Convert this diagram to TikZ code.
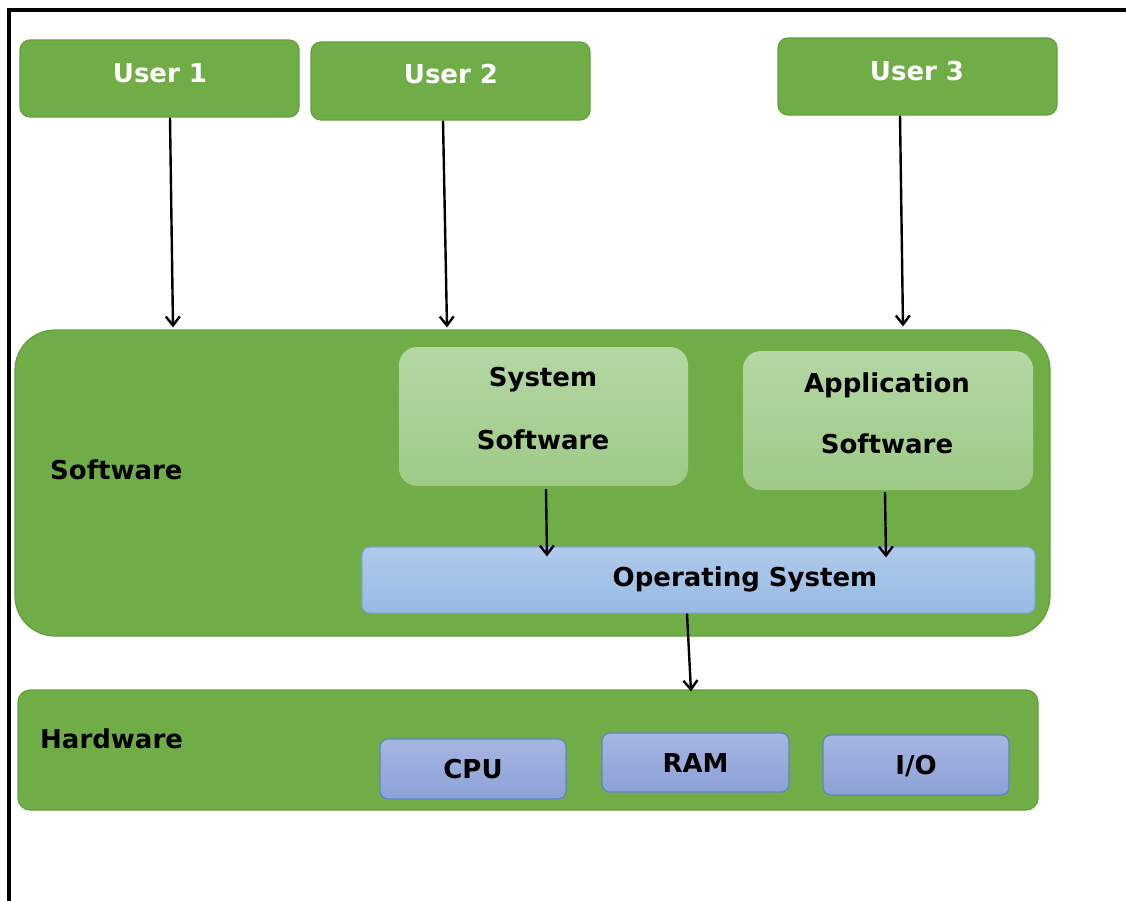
\documentclass[tikz,border=0pt]{standalone}
\usepackage{fontspec}
\setmainfont{DejaVu Sans}
\usetikzlibrary{arrows.meta,calc}
\definecolor{leaf}{HTML}{70AD47}
\definecolor{leafedge}{HTML}{62A03D}
\definecolor{paletop}{HTML}{B4D7A4}
\definecolor{palebot}{HTML}{9ECA86}
\definecolor{ostop}{HTML}{AFCAEC}
\definecolor{osbot}{HTML}{98BBE3}
\definecolor{osedge}{HTML}{7BA7DB}
\definecolor{hwtop}{HTML}{A6B6E2}
\definecolor{hwbot}{HTML}{8DA1D6}
\definecolor{hwedge}{HTML}{5A86C9}
\tikzset{
  x=1pt, y=-1pt,
  every node/.style={font=\fontsize{26}{30}\selectfont\bfseries, inner sep=0pt},
  userbox/.style={draw=leafedge, fill=leaf, line width=1.2pt, rounded corners=10pt, text=white},
  layerbox/.style={draw=leafedge, fill=leaf, line width=1.2pt},
  softbox/.style={top color=paletop, bottom color=palebot, rounded corners=18pt},
  osbox/.style={draw=osedge, line width=1.2pt, top color=ostop, bottom color=osbot, rounded corners=8pt},
  hwbox/.style={draw=hwedge, line width=1.2pt, top color=hwtop, bottom color=hwbot, rounded corners=8pt},
  lbl/.style={text=black},
  ulbl/.style={text=white},
  arr/.style={-{Straight Barb[length=9pt,width=14pt,line width=2.4pt]}, line width=2.4pt, black},
}
\begin{document}
\begin{tikzpicture}
\useasboundingbox (0,0) rectangle (1126,901);
\fill[white] (0,0) rectangle (1126,901);
% outer frame
\draw[line width=3.2pt] (9,901) -- (9,10) -- (1126,10);

% users
\node[userbox, minimum width=279pt, minimum height=77pt] (u1) at (159.5,78.5) {};
\node[ulbl] (u1l) at (160,73) {User 1};
\node[userbox, minimum width=279pt, minimum height=78pt] (u2) at (450.5,81) {};
\node[ulbl] (u2l) at (451,74) {User 2};
\node[userbox, minimum width=279pt, minimum height=77pt] (u3) at (917.5,76.5) {};
\node[ulbl] (u3l) at (917,71) {User 3};

% software layer
\node[layerbox, rounded corners=40pt, minimum width=1035pt, minimum height=306pt] (sw) at (532.5,483) {};
\node[lbl, anchor=west] (swl) at (50,470) {Software};
\node[softbox, minimum width=289pt, minimum height=139pt] (sys) at (543.5,416.5) {};
\node[lbl] (sys1) at (543,380) {System};
\node[lbl] (sys2) at (543,440) {Software};
\node[softbox, minimum width=290pt, minimum height=139pt] (app) at (888,420.5) {};
\node[lbl] (app1) at (887,385) {Application};
\node[lbl] (app2) at (887,444) {Software};
\node[osbox, minimum width=673pt, minimum height=66pt] (os) at (698.5,580) {};
\node[lbl] (osl) at (745,579) {Operating System};

% hardware layer
\node[layerbox, rounded corners=12pt, minimum width=1020pt, minimum height=120pt] (hw) at (528,750) {};
\node[lbl, anchor=west] (hwl) at (40,739) {Hardware};
\node[hwbox, minimum width=186pt, minimum height=60pt] (cpu) at (473,769) {};
\node[lbl] (cpul) at (473,769) {CPU};
\node[hwbox, minimum width=187pt, minimum height=59pt] (ram) at (695.5,762.5) {};
\node[lbl] (raml) at (695.5,763) {RAM};
\node[hwbox, minimum width=186pt, minimum height=60pt] (io) at (916,765) {};
\node[lbl] (iol) at (916,766) {I/O};

% connectors
\draw[arr] ([xshift=10.5pt]u1.south) -- ($([xshift=13.5pt]u1.south |- sw.north)+(0,-2)$);
\draw[arr] ([xshift=-7.5pt]u2.south) -- ($([xshift=-3.5pt]u2.south |- sw.north)+(0,-2)$);
\draw[arr] ([xshift=-17.5pt]u3.south) -- ($([xshift=-14.5pt]u3.south |- sw.north)+(0,-3)$);
\draw[arr] ([xshift=2.5pt,yshift=-3pt]sys.south) -- ($([xshift=3.5pt]sys.south |- os.north)+(0,10)$);
\draw[arr] ([xshift=-3pt,yshift=-2pt]app.south) -- ($([xshift=-2pt]app.south |- os.north)+(0,11)$);
\draw[arr] ([xshift=-11.5pt]os.south) -- ($([xshift=-7.5pt]os.south |- hw.north)+(0,2)$);
\end{tikzpicture}
\end{document}
